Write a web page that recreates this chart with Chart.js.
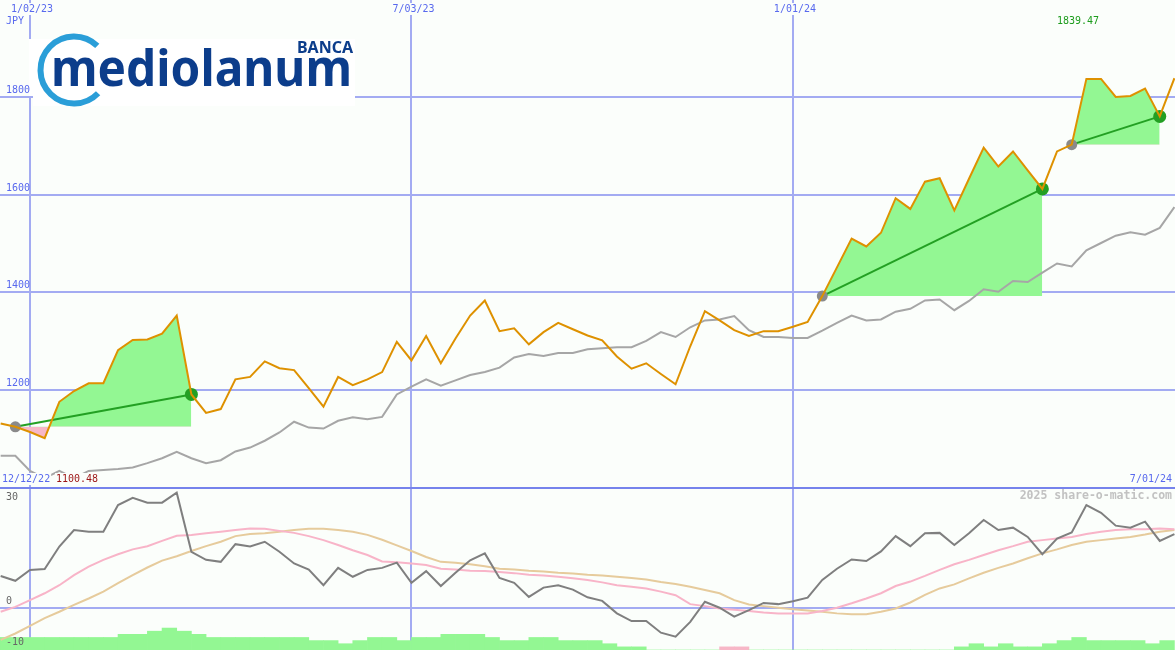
<!DOCTYPE html>
<html lang="en">
<head>
<meta charset="utf-8">
<title>Banca Mediolanum - weekly chart</title>
<script src="https://cdn.jsdelivr.net/npm/chart.js@4.4.1/dist/chart.umd.min.js"></script>
<style>
    body { margin: 0; background: #fbfefb; }
    #wrap { position: relative; width: 1175px; height: 650px; overflow: hidden; }
    #price-box { position: absolute; left: 0; top: 0; width: 1175px; height: 487px; }
    #osc-box { position: absolute; left: 0; top: 487px; width: 1175px; height: 163px; }
</style>
</head>
<body>
<div id="wrap">
    <div id="price-box"><canvas id="priceChart"></canvas></div>
    <div id="osc-box"><canvas id="oscChart"></canvas></div>
</div>
<script>
// Weekly data, week 1 = 19 Dec 2022 ... week 81 = 1 Jul 2024
const firstWeek = 1;

const price = [
    1130.5, 1123.6, 1113, 1100.48, 1175, 1197, 1213, 1213, 1281, 1302,
    1303, 1315, 1352, 1190, 1152, 1160, 1221, 1226, 1258, 1244,
    1240, 1203, 1165, 1226, 1209, 1221, 1236, 1298, 1260, 1310,
    1254, 1305, 1352, 1383, 1320, 1326, 1293, 1318, 1337, 1324,
    1311, 1301, 1268, 1243, 1254, 1232, 1211, 1289, 1361, 1342,
    1322, 1310, 1320, 1320, 1329, 1339, 1392, 1451, 1510, 1494,
    1522, 1593, 1571, 1627, 1634, 1568, 1633, 1697, 1658, 1689,
    1650, 1612, 1689, 1703, 1838, 1838, 1801, 1803, 1818, 1761, 1839.47
];

const benchmark = [
    1064, 1064, 1033, 1018, 1033, 1018, 1033, 1035, 1037, 1040,
    1049, 1059, 1072, 1059, 1049, 1055, 1073, 1081, 1095, 1112,
    1134, 1122, 1120, 1136, 1143, 1139, 1144, 1190, 1206, 1221,
    1208, 1219, 1230, 1236, 1245, 1266, 1273, 1269, 1275, 1275,
    1283, 1285, 1287, 1287, 1300, 1318, 1308, 1328, 1342, 1344,
    1351, 1322, 1308, 1308, 1306, 1306, 1321, 1337, 1352, 1342,
    1344, 1360, 1366, 1383, 1385, 1363, 1382, 1406, 1401, 1423,
    1421, 1440, 1459, 1453, 1486, 1501, 1516, 1523, 1518, 1532, 1575
];

const momentum = [
    7.9, 6.7, 9.4, 9.6, 15.2, 19.3, 18.9, 18.9, 25.5, 27.3,
    26.1, 26.1, 28.6, 13.9, 11.9, 11.4, 15.8, 15.2, 16.4, 13.9,
    11, 9.5, 5.6, 9.9, 7.7, 9.4, 9.9, 11.2, 6.2, 9.1,
    5.4, 8.7, 11.8, 13.5, 7.4, 6.2, 2.7, 5, 5.6, 4.5,
    2.6, 1.7, -1.4, -3.3, -3.3, -6.2, -7.2, -3.5, 1.5, 0,
    -2.2, -0.6, 1.2, 0.9, 1.6, 2.5, 6.9, 9.7, 12, 11.6,
    14, 17.8, 15.3, 18.5, 18.6, 15.6, 18.5, 21.8, 19.3, 19.9,
    17.6, 13.3, 17.2, 18.7, 25.5, 23.6, 20.4, 19.9, 21.4, 16.6, 18.3
];

const signalFast = [
    -1, 0.2, 1.9, 3.6, 5.6, 8.1, 10.2, 11.9, 13.3, 14.5,
    15.3, 16.6, 17.9, 18.1, 18.5, 18.9, 19.3, 19.7, 19.6, 19.1,
    18.6, 17.8, 16.8, 15.6, 14.3, 13.1, 11.5, 11.3, 11, 10.6,
    9.7, 9.5, 9.2, 9.1, 8.9, 8.6, 8.2, 8, 7.7, 7.3,
    6.9, 6.3, 5.6, 5.2, 4.8, 4, 3.1, 0.9, 0.4, -0.2,
    -0.5, -0.8, -1.2, -1.4, -1.4, -1.4, -0.8, 0, 1.1, 2.3,
    3.6, 5.4, 6.5, 7.9, 9.4, 10.8, 11.9, 13.1, 14.3, 15.3,
    16.4, 16.8, 17.2, 17.6, 18.3, 18.9, 19.3, 19.5, 19.5, 19.7, 19.5
];

const signalSlow = [
    -8, -6.4, -4.5, -2.6, -1, 0.7, 2.3, 4, 6.1, 8.1,
    10, 11.7, 12.8, 14.1, 15.3, 16.4, 17.8, 18.3, 18.5, 18.9,
    19.3, 19.6, 19.6, 19.3, 18.9, 18.1, 16.9, 15.5, 14.1, 12.6,
    11.4, 11.2, 10.8, 10.3, 9.7, 9.5, 9.2, 9, 8.7, 8.5,
    8.2, 8, 7.7, 7.4, 7, 6.4, 5.9, 5.2, 4.4, 3.6,
    1.9, 0.8, 0.4, 0, -0.4, -0.7, -1, -1.4, -1.6, -1.6,
    -1, -0.2, 1.3, 3.2, 4.8, 5.8, 7.3, 8.7, 9.9, 11,
    12.3, 13.5, 14.5, 15.6, 16.4, 16.8, 17.2, 17.6, 18.2, 18.9, 19.3
];

// histogram bars, one per week starting at week 0 (negative = pink)
const histBars = [
    4, 4, 4, 4, 4, 4, 4, 4, 4, 5, 5, 6, 7, 6, 5, 4, 4, 4, 4, 4,
    4, 4, 3, 3, 2, 3, 4, 4, 3, 4, 4, 5, 5, 5, 4, 3, 3, 4, 4, 3,
    3, 3, 2, 1, 1, 0, 0, 0, 0, 0, -1, -1, 0, 0, 0, 0, 0, 0, 0, 0,
    0, 0, 0, 0, 0, 0, 1, 2, 1, 2, 1, 1, 2, 3, 4, 3, 3, 3, 3, 2, 3
];

const tradeEntry = [2, 57, 74];
const tradeExit = [14, 72, 80];

const dateTickWeeks = [3, 29, 55];
const dateTickLabels = ['1/02/23', '7/03/23', '1/01/24'];
const priceTicks = [1200, 1400, 1600, 1800];
const oscTicks = [30, 0, -10];
const startLabel = '12/12/22';
const endLabel = '7/01/24';
const currency = 'JPY';

// Colours
const BG = '#fbfefb';
const GRID = '#a3abf2';
const SEPARATOR = '#7683ec';
const TEXT_BLUE = '#5869ee';
const MONO = '10px "DejaVu Sans Mono"';

function drawText(ctx, text, x, y, color, align, font, withBg) {
    ctx.font = font || MONO;
    ctx.textAlign = align || 'left';
    ctx.textBaseline = 'middle';
    if (withBg) {
        const w = ctx.measureText(text).width;
        const left = align === 'center' ? x - w / 2 : align === 'right' ? x - w : x;
        ctx.fillStyle = BG;
        ctx.fillRect(left - 1, y - 6, w + 2, 12);
    }
    ctx.fillStyle = color;
    ctx.fillText(text, x, y);
}

function drawLogo(ctx) {
    ctx.save();
    ctx.fillStyle = '#ffffff';
    ctx.fillRect(29, 39, 326, 57);
    ctx.fillRect(33, 39, 322, 67);
    ctx.strokeStyle = '#2a9ed8';
    ctx.lineWidth = 6;
    ctx.beginPath();
    ctx.arc(74, 70, 33.5, 44 * Math.PI / 180, 314 * Math.PI / 180);
    ctx.stroke();
    ctx.fillStyle = '#0c3d8b';
    ctx.textBaseline = 'alphabetic';
    ctx.textAlign = 'left';
    ctx.font = 'bold 50px "Noto Sans"';
    ctx.fillText('mediolanum', 51, 86, 301);
    ctx.textAlign = 'right';
    ctx.font = 'bold 16px "Noto Sans"';
    ctx.fillText('BANCA', 353, 53);
    ctx.restore();
}

function weekAxis() {
    return {
        type: 'linear',
        min: 0.955,
        max: 81.04,
        offset: false,
        afterBuildTicks: axis => { axis.ticks = dateTickWeeks.map(v => ({ value: v })); },
        grid: { color: GRID, lineWidth: 2, drawTicks: false, tickLength: 0, offset: false },
        border: { display: false },
        ticks: { display: false }
    };
}

const toPoints = arr => arr.map((v, k) => ({ x: firstWeek + k, y: v }));

// Price panel
const priceDecor = {
    id: 'priceDecor',
    afterDraw(chart) {
        const ctx = chart.ctx;
        const xs = chart.scales.x;
        const ys = chart.scales.y;
        drawLogo(ctx);
        ctx.save();
        dateTickWeeks.forEach((w, k) => {
            drawText(ctx, dateTickLabels[k], xs.getPixelForValue(w) + 2, 9, TEXT_BLUE, 'center', MONO, true);
        });
        drawText(ctx, currency, 6, 21, TEXT_BLUE, 'left', MONO, true);
        priceTicks.forEach(v => {
            drawText(ctx, String(v), 6, ys.getPixelForValue(v) - 6.5, TEXT_BLUE, 'left', MONO, false);
        });
        drawText(ctx, price[price.length - 1].toFixed(2), 1057, 21, '#1c9c1c', 'left', MONO, true);
        drawText(ctx, startLabel, 2, 479, TEXT_BLUE, 'left', MONO, true);
        drawText(ctx, Math.min(...price).toFixed(2), 56, 479, '#9c1414', 'left', MONO, true);
        drawText(ctx, endLabel, 1172, 479, TEXT_BLUE, 'right', MONO, true);
        ctx.restore();
    }
};

const tradeFills = tradeEntry.map((entry, t) => ({
    data: toPoints(price).slice(entry - firstWeek, tradeExit[t] - firstWeek + 1),
    borderColor: 'rgba(0,0,0,0)',
    borderWidth: 0,
    pointRadius: 0,
    fill: { target: { value: price[entry - firstWeek] }, above: '#93f793', below: '#f7b7c7' },
    order: 10
}));

const tradeLines = tradeEntry.map((entry, t) => ({
    data: [entry, tradeExit[t]].map(w => ({ x: w, y: price[w - firstWeek] })),
    borderColor: '#23a023',
    borderWidth: 2,
    pointRadius: 0,
    order: 6
}));

new Chart(document.getElementById('priceChart'), {
    type: 'line',
    data: {
        datasets: [
            ...tradeFills,
            {
                data: toPoints(benchmark),
                borderColor: '#a6a6a6',
                borderWidth: 2,
                pointRadius: 0,
                order: 8
            },
            ...tradeLines,
            {
                data: tradeEntry.map(w => ({ x: w, y: price[w - firstWeek] })),
                showLine: false,
                pointRadius: 5.5,
                pointBackgroundColor: '#8a8a8a',
                pointBorderColor: '#8a8a8a',
                pointBorderWidth: 0,
                order: 4
            },
            {
                data: tradeExit.map(w => ({ x: w, y: price[w - firstWeek] })),
                showLine: false,
                pointRadius: 6.5,
                pointBackgroundColor: '#239f23',
                pointBorderColor: '#239f23',
                pointBorderWidth: 0,
                order: 4
            },
            {
                data: toPoints(price),
                borderColor: '#de9100',
                borderWidth: 2,
                pointRadius: 0,
                order: 1
            }
        ]
    },
    options: {
        responsive: true,
        maintainAspectRatio: false,
        animation: false,
        devicePixelRatio: 1,
        layout: { padding: 0, autoPadding: false },
        elements: { line: { tension: 0 } },
        plugins: { legend: { display: false }, tooltip: { enabled: false } },
        scales: {
            x: weekAxis(),
            y: {
                min: 1000,
                max: 2000,
                afterBuildTicks: axis => { axis.ticks = priceTicks.map(v => ({ value: v })); },
                grid: { color: GRID, lineWidth: 2, drawTicks: false, tickLength: 0 },
                border: { display: false },
                ticks: { display: false }
            }
        }
    },
    plugins: [priceDecor]
});

// Oscillator panel
const oscDecor = {
    id: 'oscDecor',
    afterDraw(chart) {
        const ctx = chart.ctx;
        const ys = chart.scales.y;
        ctx.save();
        ctx.fillStyle = SEPARATOR;
        ctx.fillRect(0, 0, chart.width, 2);
        oscTicks.forEach(v => {
            const py = Math.max(ys.getPixelForValue(v) - 6, 10);
            drawText(ctx, String(v), 6, py, '#666666', 'left', MONO, false);
        });
        drawText(ctx, '2025 share-o-matic.com', 1172, 9, '#c2c2c2', 'right', 'bold 11.5px "DejaVu Sans Mono"', false);
        ctx.restore();
    }
};

new Chart(document.getElementById('oscChart'), {
    type: 'line',
    data: {
        datasets: [
            {
                type: 'bar',
                yAxisID: 'yBar',
                data: histBars.map((v, s) => ({ x: s + 0.5, y: Math.abs(v) })),
                backgroundColor: histBars.map(v => v < 0 ? '#f7b7c7' : '#93f793'),
                borderWidth: 0,
                barPercentage: 1,
                categoryPercentage: 1,
                order: 10
            },
            {
                data: toPoints(signalSlow),
                borderColor: '#e6cb9c',
                borderWidth: 2,
                pointRadius: 0,
                order: 5
            },
            {
                data: toPoints(signalFast),
                borderColor: '#f8b4c8',
                borderWidth: 2,
                pointRadius: 0,
                order: 4
            },
            {
                data: toPoints(momentum),
                borderColor: '#7f7f7f',
                borderWidth: 2,
                pointRadius: 0,
                order: 1
            }
        ]
    },
    options: {
        responsive: true,
        maintainAspectRatio: false,
        animation: false,
        devicePixelRatio: 1,
        layout: { padding: 0, autoPadding: false },
        elements: { line: { tension: 0 } },
        plugins: { legend: { display: false }, tooltip: { enabled: false } },
        scales: {
            x: weekAxis(),
            y: {
                min: -10.5,
                max: 30,
                afterBuildTicks: axis => { axis.ticks = oscTicks.map(v => ({ value: v })); },
                grid: {
                    color: ctx => ctx.tick && ctx.tick.value === 0 ? GRID : 'rgba(0,0,0,0)',
                    lineWidth: 2,
                    drawTicks: false,
                    tickLength: 0
                },
                border: { display: false },
                ticks: { display: false }
            },
            yBar: {
                min: 0,
                max: 52,
                display: false
            }
        }
    },
    plugins: [oscDecor]
});
</script>
</body>
</html>
